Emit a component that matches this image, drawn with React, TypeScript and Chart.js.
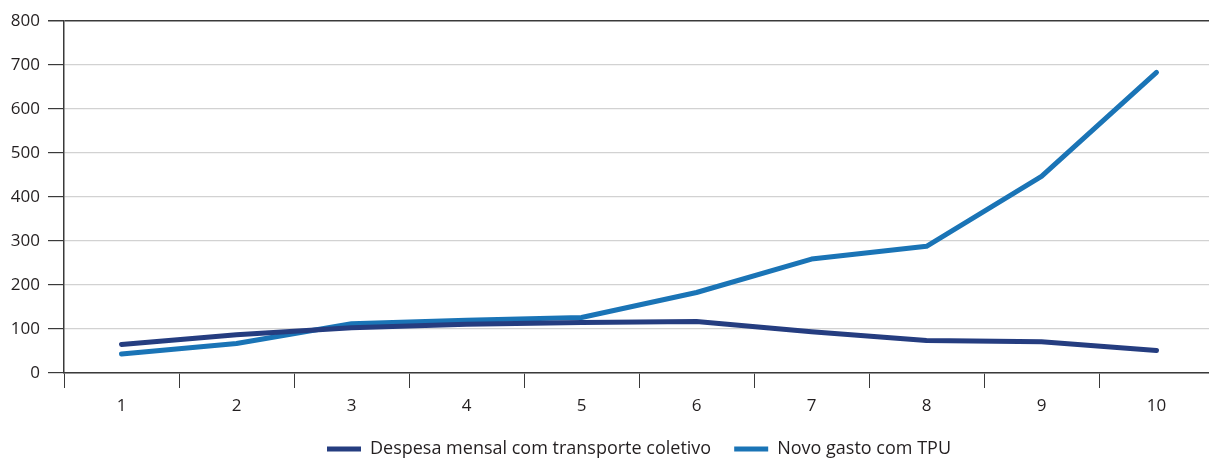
import React, { useEffect, useRef } from "react";
import { Chart, registerables } from "chart.js";

Chart.register(...registerables);

const categories = ["1", "2", "3", "4", "5", "6", "7", "8", "9", "10"];
const despesaMensal = [65, 87, 103, 111, 115, 117, 94, 74, 71, 51];
const novoGastoTPU = [43, 67, 112, 120, 126, 183, 259, 288, 447, 683];
const seriesNames = ["Despesa mensal com transporte coletivo", "Novo gasto com TPU"];
const yTicks = [0, 100, 200, 300, 400, 500, 600, 700, 800];

const DARK = "#253d80";
const LIGHT = "#1a74b6";
const AXIS = "#3a3a3a";
const FONT = "'Open Sans', 'Noto Sans', sans-serif";

const W = 1214;
const H = 468;

export default function App() {
  const ref = useRef<HTMLCanvasElement | null>(null);

  useEffect(() => {
    document.body.style.margin = "0";
    document.body.style.overflow = "hidden";
    const ctx = ref.current!;
    const chart = new Chart(ctx, {
      type: "line",
      data: {
        labels: categories,
        datasets: [
          {
            label: seriesNames[0],
            data: despesaMensal,
            borderColor: DARK,
            backgroundColor: DARK,
            borderWidth: 5,
            pointRadius: 0,
            borderCapStyle: "round",
            borderJoinStyle: "round",
            tension: 0,
          },
          {
            label: seriesNames[1],
            data: novoGastoTPU,
            borderColor: LIGHT,
            backgroundColor: LIGHT,
            borderWidth: 5,
            pointRadius: 0,
            borderCapStyle: "round",
            borderJoinStyle: "round",
            tension: 0,
          },
        ],
      },
      options: {
        animation: false,
        responsive: false,
        maintainAspectRatio: false,
        layout: { padding: { top: 21, right: 0, left: 0, bottom: 0 } },
        plugins: {
          tooltip: { enabled: false },
          legend: {
            position: "bottom",
            fullSize: false,
            labels: {
              font: { family: FONT, size: 18 },
              color: "#231f20",
              boxWidth: 34,
              boxHeight: 5,
              padding: 23,
              generateLabels: (c: any) => {
                const items = Chart.defaults.plugins.legend.labels.generateLabels(c);
                items.forEach((it: any) => {
                  it.lineWidth = 0;
                  it.strokeStyle = "rgba(0,0,0,0)";
                });
                return items;
              },
            },
          },
        },
        scales: {
          x: {
            type: "category",
            offset: true,
            grid: {
              offset: true,
              drawOnChartArea: false,
              drawTicks: true,
              tickLength: 15,
              tickColor: AXIS,
              tickWidth: 1,
            },
            border: { color: AXIS, width: 1.5 },
            ticks: {
              font: { family: FONT, size: 17 },
              color: "#231f20",
              padding: 8,
            },
            afterFit: (s: any) => {
              s.height = 44;
            },
          },
          y: {
            min: 0,
            max: 800,
            afterBuildTicks: (s: any) => {
              s.ticks = yTicks.map((v) => ({ value: v }));
            },
            grid: {
              color: (c: any) => (c.tick && c.tick.value === 800 ? AXIS : "#d2d2d2"),
              lineWidth: (c: any) => (c.tick && c.tick.value === 800 ? 1.5 : 1.2),
              tickLength: 16,
              tickColor: AXIS,
              drawTicks: true,
            },
            border: { color: AXIS, width: 1.5 },
            ticks: {
              font: { family: FONT, size: 17 },
              color: "#231f20",
              padding: 8,
            },
            afterFit: (s: any) => {
              s.width = 64;
            },
          },
        },
      },
    });
    return () => chart.destroy();
  }, []);

  return (
    <div style={{ position: "fixed", left: 0, top: 0, width: W, height: H }}>
      <canvas ref={ref} width={W} height={H} style={{ width: W, height: H }} />
    </div>
  );
}
